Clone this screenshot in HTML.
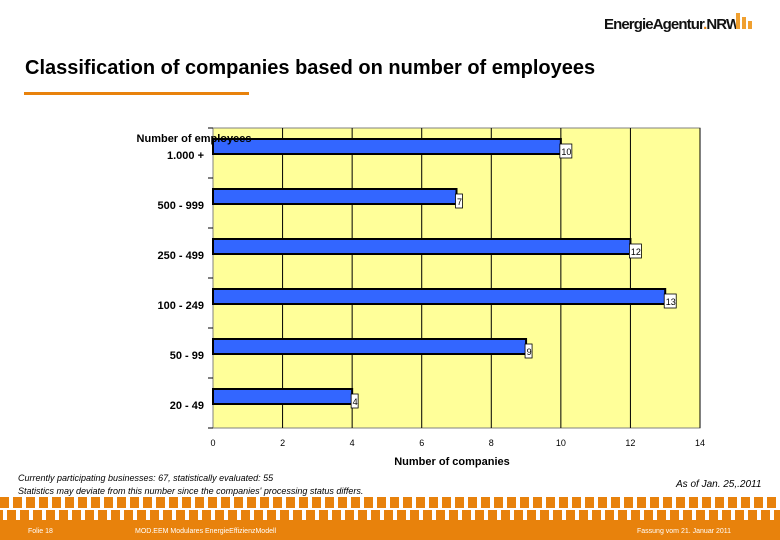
<!DOCTYPE html>
<html><head><meta charset="utf-8"><style>
body{margin:0;width:780px;height:540px;background:#fff;position:relative;overflow:hidden;font-family:"Liberation Sans",sans-serif}
.abs{position:absolute}
</style></head><body>
<div class="abs" style="left:604px;top:16px;font-size:15px;font-weight:bold;letter-spacing:-0.9px;color:#111;white-space:nowrap">EnergieAgentur<span style="color:#e8820c">.</span>NRW</div>
<svg class="abs" style="left:734px;top:11px" width="22" height="20"><path d="M2 2h4v16H2zM8 6h4v12H8zM14 10h4v8h-4z" fill="#f0a030"/></svg>
<div class="abs" style="left:25px;top:57px;font-size:20px;font-weight:bold;color:#000;white-space:nowrap">Classification of companies based on number of employees</div>
<div class="abs" style="left:24px;top:92px;width:225px;height:3px;background:#e8820c"></div>
<svg class="abs" style="left:0;top:0" width="780" height="540" id="chart"></svg>
<div class="abs" style="left:18px;top:472px;font-size:9px;font-style:italic;line-height:13px;color:#000;white-space:nowrap">Currently participating businesses: 67, statistically evaluated: 55<br>Statistics may deviate from this number since the companies' processing status differs.</div>
<div class="abs" style="left:676px;top:479px;font-size:10px;font-style:italic">As of Jan. 25,.2011</div>
<div class="abs" style="left:0;top:497px;width:780px;height:11px;background:repeating-linear-gradient(90deg,#e8820c 0 9px,#fff 9px 13px)"></div>
<div class="abs" style="left:0;top:510px;width:780px;height:10px;background:repeating-linear-gradient(90deg,#e8820c 0 3px,#fff 3px 7px,#e8820c 7px 13px)"></div>
<div class="abs" style="left:0;top:520px;width:780px;height:20px;background:#e8820c;color:#fff;font-size:7px">
<span class="abs" style="left:28px;top:8px">Folie 18</span>
<span class="abs" style="left:135px;top:8px">MOD.EEM Modulares EnergieEffizienzModell</span>
<span class="abs" style="left:637px;top:8px">Fassung vom 21. Januar 2011</span></div>
<script>
const categories=["1.000 +","500 - 999","250 - 499","100 - 249","50 - 99","20 - 49"];
const values=[10,7,12,13,9,4];
const ticks=[0,2,4,6,8,10,12,14];
const NS="http://www.w3.org/2000/svg",svg=document.getElementById('chart');
const x0=213,x1=700,y0=128,y1=428,band=(y1-y0)/categories.length;
const X=v=>x0+v*(x1-x0)/14;
function mk(t,a,txt){const e=document.createElementNS(NS,t);for(const k in a)e.setAttribute(k,a[k]);if(txt!=null)e.textContent=txt;svg.appendChild(e);return e;}
let e=mk('rect',{x:x0,y:y0,width:x1-x0,height:y1-y0,fill:'#ffff99',stroke:'#808080'});

ticks.forEach(t=>{
 if(t>0){e=mk('line',{x1:X(t),x2:X(t),y1:y0,y2:y1,stroke:'#000','stroke-width':1});
 }
 e=mk('text',{x:X(t),y:y1+18,'font-size':9,'text-anchor':'middle'},t);
 
});
for(let i=0;i<=categories.length;i++){mk('line',{x1:x0-5,x2:x0,y1:y0+i*band,y2:y0+i*band,stroke:'#000'});}
categories.forEach((c,i)=>{
 const yt=y0+i*band+11;
 e=mk('rect',{x:x0,y:yt,width:X(values[i])-x0,height:15,fill:'#3366ff',stroke:'#000','stroke-width':2});
 
 e=mk('rect',{x:X(values[i])-1,y:yt+5,width:values[i]>=10?12:7,height:14,fill:'#fff',stroke:'#000','stroke-width':0.8});
 e=mk('text',{x:X(values[i])+0.5,y:yt+16,'font-size':9},values[i]);
 
 e=mk('text',{x:204,y:yt+20,'font-size':11,'font-weight':'bold','text-anchor':'end'},c);
 
});
e=mk('text',{x:194,y:142,'font-size':11,'font-weight':'bold','text-anchor':'middle'},'Number of employees');

e=mk('text',{x:452,y:465,'font-size':11,'font-weight':'bold','text-anchor':'middle'},'Number of companies');

</script>
</body></html>
